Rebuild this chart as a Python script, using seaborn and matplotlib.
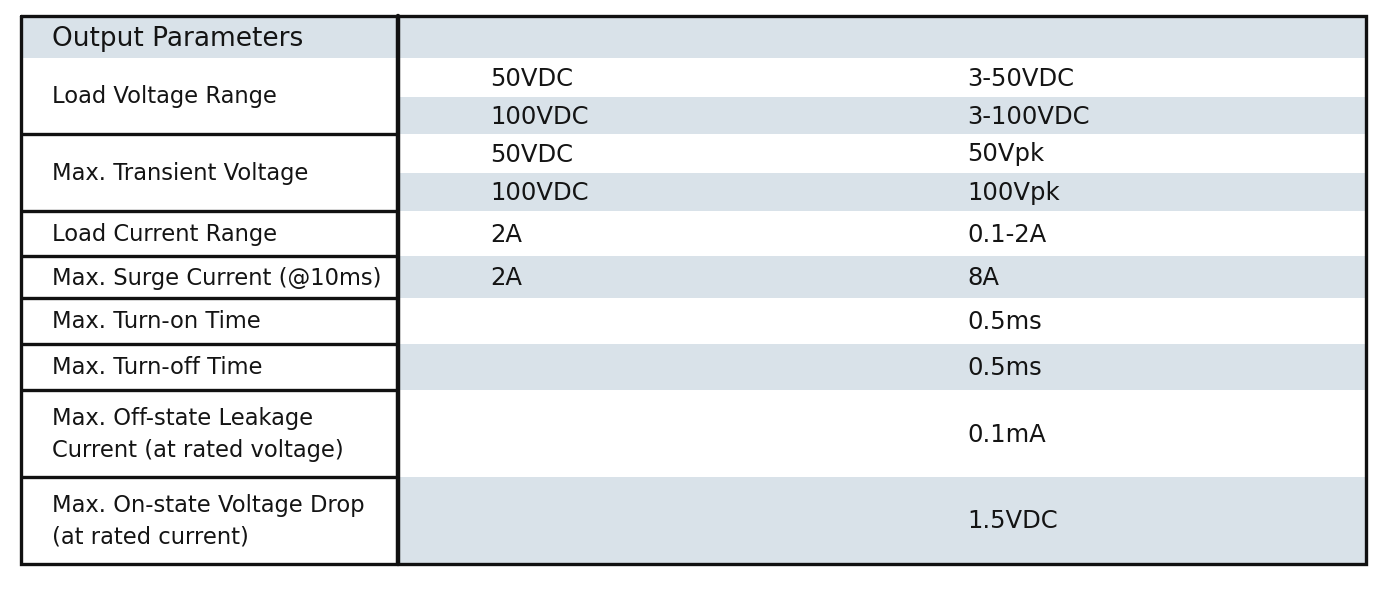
import matplotlib
matplotlib.use("Agg")
import matplotlib.pyplot as plt
import seaborn as sns
import pandas as pd

sns.set_style("white")

# table content
header_label = "Output Parameters"
param_labels = [
    "Load Voltage Range",
    "Max. Transient Voltage",
    "Load Current Range",
    "Max. Surge Current (@10ms)",
    "Max. Turn-on Time",
    "Max. Turn-off Time",
    "Max. Off-state Leakage\nCurrent (at rated voltage)",
    "Max. On-state Voltage Drop\n(at rated current)",
]
conditions = [["50VDC", "100VDC"], ["50VDC", "100VDC"], ["2A"], ["2A"],
              [""], [""], [""], [""]]
values = [["3-50VDC", "3-100VDC"], ["50Vpk", "100Vpk"], ["0.1-2A"], ["8A"],
          ["0.5ms"], ["0.5ms"], ["0.1mA"], ["1.5VDC"]]

# layout (pixel coordinates of the 1386x610 canvas)
W, H = 1386, 610
left, split, right = 21, 398, 1366
top, head_bottom = 16, 58
sub_heights = [[39, 37], [39, 38], [45], [42], [46], [46], [87], [87]]
col_x = [52, 490, 967]
blue = "#d9e2e9"
ink = "#141414"

# flatten sub rows into a frame
rows = []
y = head_bottom
for g, (hs, conds, vals) in enumerate(zip(sub_heights, conditions, values)):
    for h, c, v in zip(hs, conds, vals):
        rows.append({"group": g, "y0": y, "h": h, "cond": c, "val": v})
        y += h
df = pd.DataFrame(rows)
df["shade"] = [blue if i % 2 else "white" for i in range(len(df))]

fig = plt.figure(figsize=(W / 100, H / 100), dpi=100)
ax = fig.add_axes([0, 0, 1, 1])
ax.set_xlim(0, W)
ax.set_ylim(H, 0)
ax.axis("off")

# header band
ax.barh(top, right - left, height=head_bottom - top, left=left,
        align="edge", color=blue, linewidth=0)
# stripes on the value side
ax.barh(df["y0"], right - split, height=df["h"], left=split, align="edge",
        color=df["shade"], linewidth=0)

txt = dict(va="center", ha="left", color=ink, family="DejaVu Sans")
ax.text(col_x[0], (top + head_bottom) / 2 + 1.5, header_label, fontsize=19,
        **txt)

for g, label in enumerate(param_labels):
    sub = df[df["group"] == g]
    g0 = sub["y0"].iloc[0]
    g1 = g0 + sub["h"].sum()
    ax.text(col_x[0], (g0 + g1) / 2 + 1, label, fontsize=16.3,
            linespacing=1.5, **txt)
    if g > 0:
        ax.plot([left, split], [g0, g0], color="#111111", lw=2.4,
                solid_capstyle="butt")
    for _, r in sub.iterrows():
        yc = r["y0"] + r["h"] / 2 + 1
        ax.text(col_x[1], yc, r["cond"], fontsize=17.5, **txt)
        ax.text(col_x[2], yc, r["val"], fontsize=17.5, **txt)

bottom = df["y0"].iloc[-1] + df["h"].iloc[-1]
ax.plot([left, right, right, left, left], [top, top, bottom, bottom, top],
        color="#111111", lw=2.4, solid_joinstyle="miter")
ax.plot([split, split], [top, bottom], color="#111111", lw=3.2)

fig.savefig("out.png", dpi=100, facecolor="white")
